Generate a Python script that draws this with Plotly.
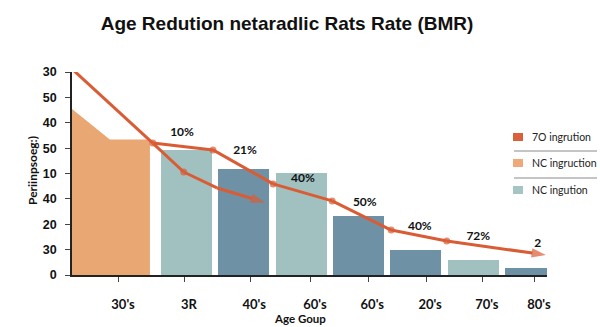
import plotly.graph_objects as go

# ---------------- data ----------------
categories = ["30's", "3R", "40's", "60's", "60's", "20's", "70's", "80's"]
y_tick_text = ["0", "30", "20", "40", "10", "50", "40", "50", "30"]

# orange area (first group)
area_x = [0.0, 0.66, 1.36]
area_y = [6.54, 5.34, 5.34]

# bars for groups 2..8
bar_values = [4.92, 4.17, 4.02, 2.32, 0.98, 0.59, 0.28]
bar_kind = ["light", "dark", "light", "dark", "dark", "light", "dark"]

# main trend line
line1_x = [0.02, 1.41, 2.46, 3.51, 4.54, 5.57, 6.54, 8.27]
line1_y = [8.08, 5.20, 4.93, 3.59, 2.92, 1.77, 1.34, 0.79]

# secondary arrow line
line2_x = [1.41, 1.95, 2.53, 3.37]
line2_y = [5.20, 4.06, 3.43, 2.86]

# value labels
label_text = ["10%", "21%", "40%", "50%", "40%", "72%", "2"]
label_x = [1.92, 3.02, 4.03, 5.11, 6.07, 7.09, 8.13]
label_y = [5.59, 4.88, 3.78, 2.84, 1.89, 1.50, 1.22]

legend_labels = ["7O ingrution", "NC ingruction", "NC ingution"]

# ---------------- style ----------------
C_LINE = "#D95C35"
C_ORANGE = "#E9A773"
C_LIGHT = "#A1C1C1"
C_DARK = "#6F91A5"
C_LEG = ["#D9603B", "#EDAA78", "#A5C4C4"]

L, R, T, B = 72, 53, 72, 52
W, H = 600, 327
PW, PH = W - L - R, H - T - B
XMAX = PW / 57.3

fig = go.Figure()

fig.add_trace(go.Scatter(
    x=area_x, y=area_y, mode="lines", fill="tozeroy",
    line=dict(color=C_ORANGE, width=0), fillcolor=C_ORANGE,
    hoverinfo="skip", showlegend=False))

bar_x = list(range(2, 2 + len(bar_values)))
fig.add_trace(go.Bar(
    x=bar_x, y=bar_values, width=0.89,
    marker=dict(color=[C_LIGHT if k == "light" else C_DARK for k in bar_kind], line=dict(width=0)),
    showlegend=False))

sym1 = ["circle"] * (len(line1_x) - 1) + ["arrow"]
size1 = [0] + [7] * (len(line1_x) - 2) + [15]
fig.add_trace(go.Scatter(
    x=line1_x, y=line1_y, mode="lines+markers", cliponaxis=False,
    line=dict(color=C_LINE, width=3),
    marker=dict(symbol=sym1, size=size1, color=C_LINE, angleref="previous", line=dict(width=0)),
    showlegend=False))

sym2 = ["circle"] * (len(line2_x) - 1) + ["arrow"]
size2 = [0, 7, 0, 15]
fig.add_trace(go.Scatter(
    x=line2_x, y=line2_y, mode="lines+markers", cliponaxis=False,
    line=dict(color=C_LINE, width=3),
    marker=dict(symbol=sym2, size=size2, color=C_LINE, angleref="previous", line=dict(width=0)),
    showlegend=False))

fig.add_trace(go.Scatter(
    x=label_x, y=label_y, mode="text", text=label_text, cliponaxis=False,
    textfont=dict(family="Lato, sans-serif", size=12, color="#111", weight="bold"),
    showlegend=False))

tick_pos = [0.82, 1.97, 3.11, 4.17, 5.17, 6.18, 7.17, 8.08]

fig.update_layout(
    width=W, height=H, margin=dict(l=L, r=R, t=T, b=B),
    paper_bgcolor="white", plot_bgcolor="white", bargap=0,
    title=dict(text="<b>Age Redution netaradlic Rats Rate (BMR)</b>",
               font=dict(family="Liberation Sans, Arial, sans-serif", size=19, color="#111"),
               xref="container", yref="container", x=287 / W, y=1 - 23 / H,
               xanchor="center", yanchor="middle"),
    xaxis=dict(range=[0, XMAX], showgrid=False, zeroline=False,
               showline=True, linecolor="#222", linewidth=1.5,
               ticks="outside", ticklen=5, tickcolor="#444", tickwidth=1,
               tickvals=tick_pos, ticktext=categories,
               ticklabelstandoff=12, ticklabelshift=4,
               tickfont=dict(family="Lato, sans-serif", size=13, color="#111", weight="bold")),
    yaxis=dict(range=[0, 8], showgrid=False, zeroline=False,
               showline=True, linecolor="#222", linewidth=1.5,
               ticks="outside", ticklen=5, tickcolor="#444", tickwidth=1,
               tickvals=list(range(len(y_tick_text))), ticktext=y_tick_text,
               ticklabelstandoff=6,
               tickfont=dict(family="Liberation Sans, Arial, sans-serif", size=12.5, color="#111", weight="bold")),
    showlegend=False,
)

def px2paper_x(px):
    return (px - L) / PW

def px2paper_y(py):
    return (H - B - py) / PH

annotations = [
    dict(text="<b>Age Goup</b>", x=px2paper_x(300), y=px2paper_y(318), xref="paper", yref="paper",
         xanchor="center", yanchor="middle",
         showarrow=False, font=dict(family="Lato, sans-serif", size=11.5, color="#111")),
    dict(text="<b>Periinpsoeg:)</b>", x=px2paper_x(32), y=px2paper_y(171), xref="paper", yref="paper",
         xanchor="center", yanchor="middle",
         showarrow=False, textangle=-90, font=dict(family="Lato, sans-serif", size=12, color="#111")),
]
shapes = []
leg_y = [137, 163, 190]
for i, (lab, col, ly) in enumerate(zip(legend_labels, C_LEG, leg_y)):
    shapes.append(dict(type="rect", xref="paper", yref="paper",
                       x0=px2paper_x(513), x1=px2paper_x(523), y0=px2paper_y(ly - 4), y1=px2paper_y(ly + 4),
                       fillcolor=col, line=dict(width=0)))
    annotations.append(dict(text=lab, x=px2paper_x(530), y=px2paper_y(ly), xref="paper", yref="paper",
                            xanchor="left", yanchor="middle", showarrow=False,
                            font=dict(family="Lato, sans-serif", size=10.5, color="#222")))
for sy in [151, 178]:
    shapes.append(dict(type="line", xref="paper", yref="paper",
                       x0=px2paper_x(514), x1=px2paper_x(597), y0=px2paper_y(sy), y1=px2paper_y(sy),
                       line=dict(color="#8a8a8a", width=1)))

fig.update_layout(annotations=annotations, shapes=shapes)

fig.write_html("out.html")
